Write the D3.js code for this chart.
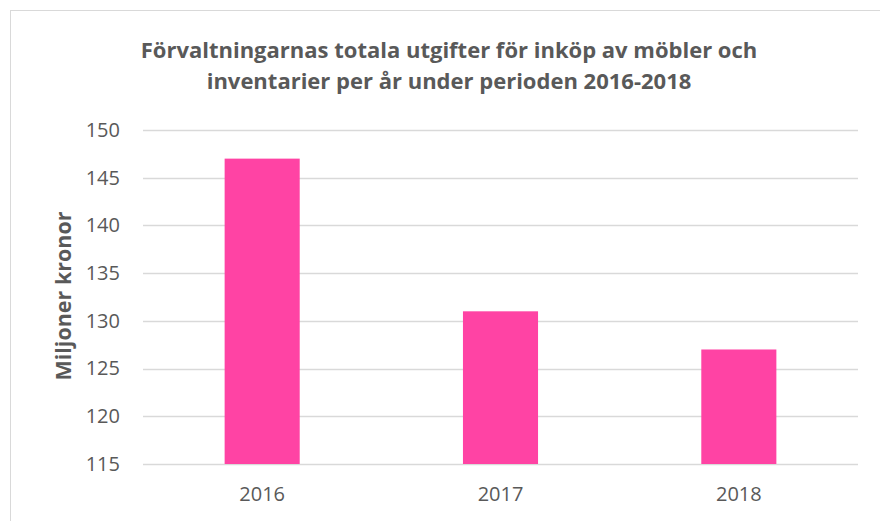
<!DOCTYPE html>
<html>
<head>
<meta charset="utf-8">
<script src="https://cdn.jsdelivr.net/npm/d3@7"></script>
<style>
  body { margin: 0; background: #fff; }
  svg { display: block; font-family: "Open Sans", "Noto Sans", sans-serif; }
</style>
</head>
<body>
<div id="chart"></div>
<script>
// data
var years = ["2016", "2017", "2018"];
var values = [147, 131, 127];
var yTicks = [115, 120, 125, 130, 135, 140, 145, 150];
var titleLines = ["Förvaltningarnas totala utgifter för inköp av möbler och",
                  "inventarier per år under perioden 2016-2018"];
var yLabel = "Miljoner kronor";

var width = 880, height = 521;
var margin = {left: 143, right: 22, top: 130, bottom: 57};
var textColor = "#595959";

var svg = d3.select("#chart").append("svg")
  .attr("width", width).attr("height", height);

// outer frame
svg.append("rect")
  .attr("x", 10.5).attr("y", 10.5)
  .attr("width", 880).attr("height", 540)
  .attr("fill", "#fff").attr("stroke", "#d9d9d9").attr("stroke-width", 1);

var x = d3.scaleBand()
  .domain(years)
  .range([margin.left, width - margin.right])
  .paddingInner(0.685).paddingOuter(0.3425);

var y = d3.scaleLinear()
  .domain([115, 150])
  .range([height - margin.bottom, margin.top]);

// gridlines
svg.append("g")
  .selectAll("line")
  .data(yTicks)
  .enter().append("line")
  .attr("x1", margin.left).attr("x2", width - margin.right)
  .attr("y1", function(d) { return Math.round(y(d)) + 0.5; })
  .attr("y2", function(d) { return Math.round(y(d)) + 0.5; })
  .attr("stroke", "#d9d9d9").attr("stroke-width", 1.5);

// bars
svg.append("g")
  .selectAll("rect")
  .data(values)
  .enter().append("rect")
  .attr("x", function(d, i) { return x(years[i]); })
  .attr("y", function(d) { return y(d); })
  .attr("width", x.bandwidth())
  .attr("height", function(d) { return y(115) - y(d); })
  .attr("fill", "#ff43a4");

// y axis labels
var yAxis = d3.axisLeft(y).tickValues(yTicks).tickSize(0).tickPadding(23);
var gy = svg.append("g")
  .attr("transform", "translate(" + margin.left + ",0)")
  .call(yAxis);
gy.select(".domain").remove();
gy.selectAll("text")
  .attr("fill", textColor)
  .style("font-size", "20px")
  .style("font-family", "'Open Sans', sans-serif");

// x axis labels
var xAxis = d3.axisBottom(x).tickSize(0).tickPadding(23);
var gx = svg.append("g")
  .attr("transform", "translate(0," + (height - margin.bottom) + ")")
  .call(xAxis);
gx.select(".domain").remove();
gx.selectAll("text")
  .attr("fill", textColor)
  .style("font-size", "20px")
  .style("font-family", "'Open Sans', sans-serif");

// title
svg.append("g")
  .selectAll("text")
  .data(titleLines)
  .enter().append("text")
  .attr("x", 449)
  .attr("y", function(d, i) { return 58 + i * 31; })
  .attr("text-anchor", "middle")
  .attr("fill", textColor)
  .style("font-size", "22px")
  .style("font-weight", "bold")
  .text(function(d) { return d; });

// y axis title
svg.append("text")
  .attr("transform", "translate(71,296) rotate(-90)")
  .attr("text-anchor", "middle")
  .attr("fill", textColor)
  .style("font-size", "21.5px")
  .style("font-weight", "bold")
  .text(yLabel);
</script>
</body>
</html>
